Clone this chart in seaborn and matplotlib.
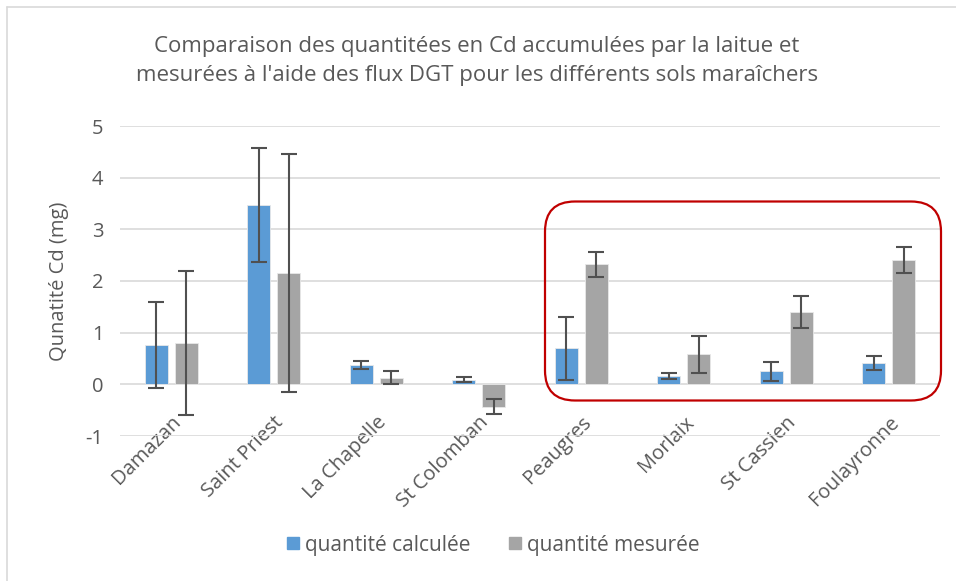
import matplotlib
matplotlib.use("Agg")
import matplotlib.pyplot as plt
import seaborn as sns
import pandas as pd
import numpy as np
from matplotlib.patches import FancyBboxPatch
from matplotlib.lines import Line2D

sites = ["Damazan", "Saint Priest", "La Chapelle", "St Colomban",
         "Peaugres", "Morlaix", "St Cassien", "Foulayronne"]
calc = [0.76, 3.47, 0.38, 0.09, 0.70, 0.16, 0.25, 0.41]
calc_err = [0.83, 1.11, 0.08, 0.045, 0.61, 0.05, 0.185, 0.14]
mes = [0.80, 2.16, 0.13, -0.43, 2.32, 0.58, 1.40, 2.41]
mes_err = [1.39, 2.30, 0.12, 0.14, 0.235, 0.36, 0.31, 0.25]
series = ["quantité calculée", "quantité mesurée"]
colors = ["#5B9BD5", "#A5A5A5"]
yticks = [-1, 0, 1, 2, 3, 4, 5]

df = pd.DataFrame({
    "site": sites * 2,
    "serie": [series[0]] * len(sites) + [series[1]] * len(sites),
    "val": calc + mes,
    "err": calc_err + mes_err,
})

sns.set_theme(style="white")
plt.rcParams["font.family"] = ["Open Sans", "DejaVu Sans"]
txt = "#595959"

fig = plt.figure(figsize=(9.56, 5.81), dpi=100)
ax = fig.add_axes([120 / 956, 1 - 436 / 581, 820 / 956, 310 / 581])

sns.barplot(data=df, x="site", y="val", hue="serie", palette=colors,
            order=sites, hue_order=series, errorbar=None, width=0.585,
            gap=0.235, ax=ax, legend=False, edgecolor="#E8E8E8", linewidth=0.6,
            saturation=1, zorder=3)

# error bars at bar centres
for patch_list, (s, errs) in zip([ax.patches[:len(sites)], ax.patches[len(sites):2 * len(sites)]],
                                 [(series[0], calc_err), (series[1], mes_err)]):
    xs = [p.get_x() + p.get_width() / 2 for p in patch_list]
    ys = df.loc[df.serie == s, "val"].to_numpy()
    ax.errorbar(xs, ys, yerr=errs, fmt="none", ecolor="#505050",
                elinewidth=1.5, capsize=5.5, capthick=1.5, zorder=4)

ax.set_ylim(-1, 5)
ax.set_xlim(-0.5, len(sites) - 0.5)
ax.set_yticks(yticks)
ax.set_yticklabels([str(t) for t in yticks], fontsize=14.5, color=txt)
ax.yaxis.grid(True, color="#D9D9D9", linewidth=1.2, zorder=0)
ax.set_axisbelow(True)
for sp in ax.spines.values():
    sp.set_visible(False)
ax.tick_params(axis="y", length=0, pad=12)
ax.tick_params(axis="x", length=0, pad=-17)
ax.set_xticks(range(len(sites)))
ax.set_xticklabels(sites, rotation=45, ha="right", rotation_mode="anchor",
                   fontsize=14.5, color=txt)
ax.set_xlabel("")
ax.set_ylabel("Qunatité Cd (mg)", fontsize=14.5, color=txt, labelpad=12)

fig.text(477 / 956, 1 - 61 / 581,
         "Comparaison des quantitées en Cd accumulées par la laitue et\n"
         "mesurées à l'aide des flux DGT pour les différents sols maraîchers",
         ha="center", va="center", fontsize=16, color=txt, linespacing=1.55)

handles = [Line2D([0], [0], marker="s", linestyle="none", markersize=8,
                  markerfacecolor=c, markeredgecolor=c) for c in colors]
fig.legend(handles, series, loc="center", bbox_to_anchor=(491 / 956, 1 - 545 / 581),
           ncol=2, frameon=False, fontsize=15, labelcolor=txt,
           handletextpad=0.1, columnspacing=1.6, handlelength=1.0)

# red rounded box (inches in figure space)
box = FancyBboxPatch((5.45, (581 - 400.5) / 100), 3.96, 1.99,
                     boxstyle="round,pad=0,rounding_size=0.3",
                     transform=fig.dpi_scale_trans, fill=False,
                     edgecolor="#C00000", linewidth=1.6, zorder=10)
fig.patches.append(box)

# chart area border (left and top)
fig.add_artist(Line2D([7 / 956, 7 / 956], [0, 1 - 7 / 581], color="#D9D9D9",
                      linewidth=1.2, transform=fig.transFigure))
fig.add_artist(Line2D([7 / 956, 1], [1 - 7 / 581, 1 - 7 / 581], color="#D9D9D9",
                      linewidth=1.2, transform=fig.transFigure))

fig.savefig("out.png", dpi=100, facecolor="white")
